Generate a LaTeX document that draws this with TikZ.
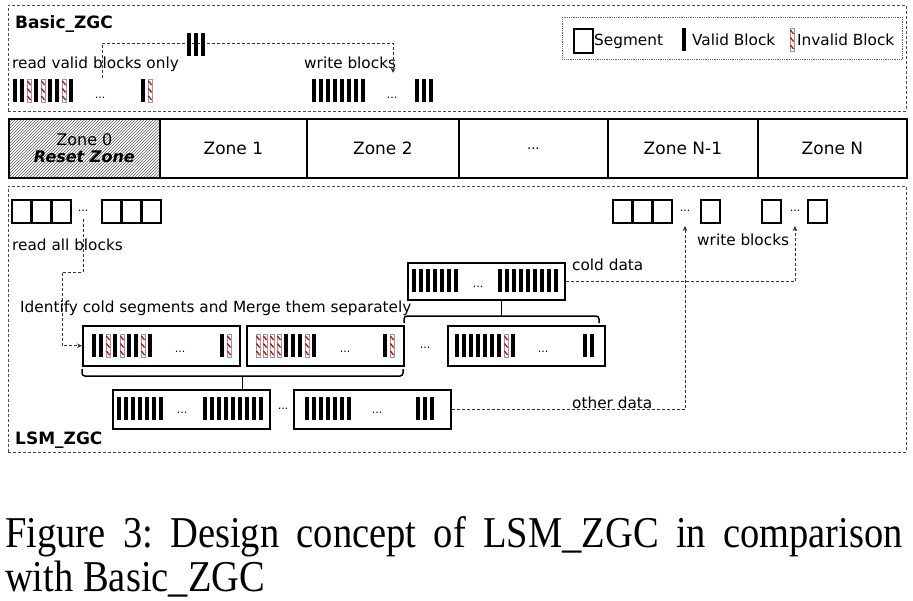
\documentclass[tikz,border=0pt]{standalone}
\usepackage{graphicx}
\usepackage{fontspec}
\setmainfont{DejaVu Sans}
\newfontfamily\capfont{Liberation Serif}
\usepackage{tikz}
\usetikzlibrary{arrows.meta,patterns}
\frenchspacing

\newcommand{\zonefont}{\fontsize{17}{18}\selectfont}
% invalid block: white bar with red stripes
\newcommand{\invblk}[2]{%
  \draw[black!40, line width=0.5pt, fill=white] (#1,#2) rectangle ++(4,23);
  \foreach \sy in {2,9.5,17}
    \draw[red!85!black, line width=1.3pt] (#1+0.4,#2+\sy) -- ++(3.2,4);
}
% row of blocks, B = valid, I = invalid
\newcommand{\blkrow}[3]{%
  \foreach \bt [count=\nb from 0] in {#3} {%
    \pgfmathsetmacro{\bx}{#1+7*\nb}%
    \if\bt B\fill (\bx,#2) rectangle ++(4,23);\else\invblk{\bx}{#2}\fi
  }%
}

\begin{document}
\begin{tikzpicture}[
  x=1pt, y=-1pt,
  frame/.style={draw=black!70, densely dashed, line width=0.8pt,
                anchor=north west, inner sep=0, minimum width=898},
  legbox/.style={draw=black!60, densely dotted, line width=0.8pt,
                 anchor=north west, inner sep=0},
  zone/.style={draw, line width=1.8pt, anchor=north west, inner sep=0,
               minimum height=59, font=\zonefont},
  grp/.style={draw, line width=1.5pt, anchor=north west, inner sep=0,
              minimum width=157, minimum height=40},
  seg/.style={draw, line width=1.6pt, anchor=north west, inner sep=0,
              minimum width=19, minimum height=23},
  lbl/.style={font=\fontsize{15.3}{17}\selectfont, inner sep=0, anchor=base west},
  ttl/.style={font=\fontsize{17}{19}\selectfont\bfseries, inner sep=0,
              anchor=base west},
  dots/.style={font=\fontsize{11}{12}\selectfont, inner sep=0, anchor=base},
  dashar/.style={draw=black!80, line width=0.8pt, dash pattern=on 3pt off 2pt,
                 -{Stealth[length=5pt, width=4.5pt]}},
  brk/.style={line width=1.5pt, rounded corners=3pt},
  capt/.style={anchor=base west, inner sep=0,
               font=\capfont\fontsize{44}{46}\selectfont},
]
\path[fill=white] (0,0) rectangle (913,600);
\useasboundingbox (0,0) rectangle (913,600);

% ---------------- Basic_ZGC ----------------
\node[frame, minimum height=106] (basic) at (8,5) {};
\node[ttl] (tbasic) at (15,28) {Basic\_ZGC};

% legend
\node[legbox, minimum width=340, minimum height=42] (legend) at (562,17) {};
\node[seg, minimum height=24] (lseg) at (573,28) {};
\node[lbl] (tseg) at (594,45) {Segment};
\blkrow{682}{28}{B}
\node[lbl] (tval) at (692,45) {Valid Block};
\invblk{790}{28}
\node[lbl] (tinv) at (797,45) {Invalid Block};

\node[lbl] (trv) at (12,68) {read valid blocks only};
\node[lbl] (twb) at (304,68) {write blocks};

\coordinate (rvsrc) at (102,78);
\coordinate (rvtop) at (102,43);
\coordinate (wbdst) at (393,73);
\draw[dashar] (rvsrc) -- (rvtop) -| (wbdst);
\blkrow{187}{33}{B,B,B}

\blkrow{13}{79}{B,B,I,B,I,B,B,I,B}
\node[dots] (bd1) at (100,98) {...};
\blkrow{141}{79}{B,I}
\blkrow{312}{79}{B,B,B,B,B,B,B,B}
\node[dots] (bd2) at (392,98) {...};
\blkrow{415}{79}{B,B,B}

% ---------------- zones ----------------
\node[zone, minimum width=151, pattern=north east lines, pattern color=black!65,
      align=center, font=\fontsize{16}{17}\selectfont] (z0) at (8,118)
  {Zone 0\\\textbf{\textit{Reset Zone}}};
\node[zone, minimum width=147] (z1) at (159,118) {Zone 1};
\node[zone, minimum width=152] (z2) at (306,118) {Zone 2};
\node[zone, minimum width=149, font=\fontsize{13}{14}\selectfont] (zd) at (458,118) {...};
\node[zone, minimum width=150] (zn1) at (607,118) {Zone N-1};
\node[zone, minimum width=149] (zn) at (757,118) {Zone N};

% ---------------- LSM_ZGC ----------------
\node[frame, minimum height=266] (lsm) at (8,186) {};
\node[ttl] (tlsm) at (15,444) {LSM\_ZGC};

\foreach \sx [count=\ns] in {11,31,51,101,121,141,612,632,652,700,761,807}
  \node[seg] (sg\ns) at (\sx,199) {};
\node[dots] (sd1) at (83,211) {...};
\node[dots] (sd2) at (685,211) {...};
\node[dots] (sd3) at (795,211) {...};

\node[lbl] (tra) at (12,250) {read all blocks};
\node[lbl] (twb2) at (697,245) {write blocks};
\node[lbl] (tcold) at (572,270) {cold data};
\node[lbl] (tid) at (20,312) {Identify cold segments and Merge them separately};
\node[lbl] (toth) at (572,408) {other data};

% segments to merge
\node[grp] (g1) at (82,325) {};
\node[grp] (g2) at (246,325) {};
\node[dots] (gd) at (425,348) {...};
\node[grp] (g3) at (447,325) {};
\blkrow{92}{334}{B,B,I,B,I,B,B,I,B}
\node[dots] (g1d) at (180,352) {...};
\blkrow{220}{334}{B,I}
\blkrow{256}{334}{I,I,I,I,B,B,B,I,B}
\node[dots] (g2d) at (345,352) {...};
\blkrow{383}{334}{B,I}
\blkrow{455}{334}{B,B,B,B,B,B,B,I,B}
\node[dots] (g3d) at (543,352) {...};
\blkrow{583}{334}{B,B}

% merged segments
\node[grp, minimum height=37] (cold) at (407,262) {};
\blkrow{412}{269}{B,B,B,B,B,B,B}
\node[dots] (cd) at (478,287) {...};
\blkrow{498}{269}{B,B,B,B,B,B,B,B,B}

\node[grp, minimum height=39] (mA) at (112,389) {};
\node[dots] (md) at (283,409) {...};
\node[grp, minimum height=39] (mB) at (293,389) {};
\blkrow{117}{397}{B,B,B,B,B,B,B}
\node[dots] (mAd) at (182,413) {...};
\blkrow{203}{397}{B,B,B,B,B,B,B,B,B}
\blkrow{305}{397}{B,B,B,B,B,B,B}
\node[dots] (mBd) at (377,413) {...};
\blkrow{416}{397}{B,B,B}

% brackets
\coordinate (brU) at (501.5,316);
\draw[brk] (404,323) -- (404,316) -- (599,316) -- (599,323);
\draw[line width=1.5pt] (brU) -- (brU |- cold.south);
\coordinate (brL) at (242.5,376);
\draw[brk] (82,369) -- (82,376) -- (403,376) -- (403,369);
\draw[line width=1.5pt] (brL) -- (brL |- mA.north);

% data flow
\coordinate (rdsrc) at (83,219);
\coordinate (rdbend) at (62,272);
\draw[dashar] (rdsrc) |- (rdbend) |- (g1.west);
\coordinate (wcold) at (795,226);
\draw[dashar] (cold.east) -| (wcold);
\coordinate (woth) at (685,226);
\draw[dashar] (mB.east) -| (woth);

% ---------------- caption ----------------
\node[capt] (cap1) at (5,547)
  {\scalebox{0.875}[1]{\makebox[1026pt][s]{Figure 3: Design concept of LSM\_ZGC in comparison}}};
\node[capt] (cap2) at (5,591) {\scalebox{0.875}[1]{with Basic\_ZGC}};
\end{tikzpicture}
\end{document}
